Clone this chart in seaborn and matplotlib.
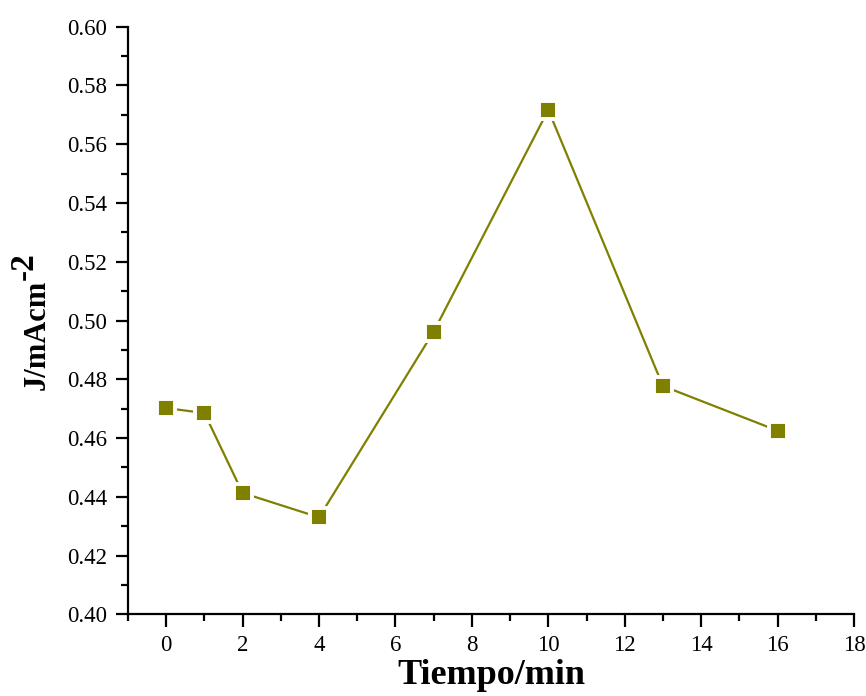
import matplotlib
matplotlib.use("Agg")
import matplotlib.pyplot as plt
from matplotlib.ticker import MultipleLocator, FormatStrFormatter
import seaborn as sns
import pandas as pd

# Measured current density over time
tiempo = [0, 1, 2, 4, 7, 10, 13, 16]
densidad = [0.4702, 0.4685, 0.4413, 0.4330, 0.4962, 0.5717, 0.4777, 0.4625]

df = pd.DataFrame({"Tiempo": tiempo, "J": densidad})

sns.set_style("ticks")
plt.rcParams["font.family"] = ["Liberation Serif", "DejaVu Serif"]

olive = "#808000"

fig = plt.figure(figsize=(8.66, 6.96), dpi=100)
ax = fig.add_axes([0.1478, 0.1174, 0.8383, 0.8442])

sns.lineplot(data=df, x="Tiempo", y="J", ax=ax, color=olive, linewidth=1.6,
             marker="s", markersize=13, markerfacecolor=olive,
             markeredgecolor="white", markeredgewidth=2.8)

ax.set_xlim(-1, 18)
ax.set_ylim(0.40, 0.60)
ax.xaxis.set_major_locator(MultipleLocator(2))
ax.xaxis.set_minor_locator(MultipleLocator(1))
ax.yaxis.set_major_locator(MultipleLocator(0.02))
ax.yaxis.set_minor_locator(MultipleLocator(0.01))
ax.yaxis.set_major_formatter(FormatStrFormatter("%.2f"))

for side in ("top", "right"):
    ax.spines[side].set_visible(False)
for side in ("left", "bottom"):
    ax.spines[side].set_linewidth(1.6)
    ax.spines[side].set_color("black")

ax.tick_params(axis="both", which="major", direction="out", length=9, width=1.6,
               labelsize=16.5, colors="black", pad=6)
ax.tick_params(axis="both", which="minor", direction="out", length=5, width=1.6,
               colors="black")

ax.set_xlabel("Tiempo/min", fontsize=26, fontweight="bold", color="black",
              labelpad=2)
ax.set_ylabel("J/mAcm", fontsize=22, fontweight="bold", color="black")
ax.yaxis.set_label_coords(-0.105, 0.475)

# Superscript exponent of the unit, drawn above the end of the y label
fig.canvas.draw()
ax.annotate("-2", xy=(0, 1), xycoords=ax.yaxis.label,
            xytext=(-10, 0), textcoords="offset points",
            rotation=90, ha="left", va="bottom",
            fontsize=24, fontweight="bold", color="black")

fig.savefig("out.png", dpi=100, facecolor="white")
